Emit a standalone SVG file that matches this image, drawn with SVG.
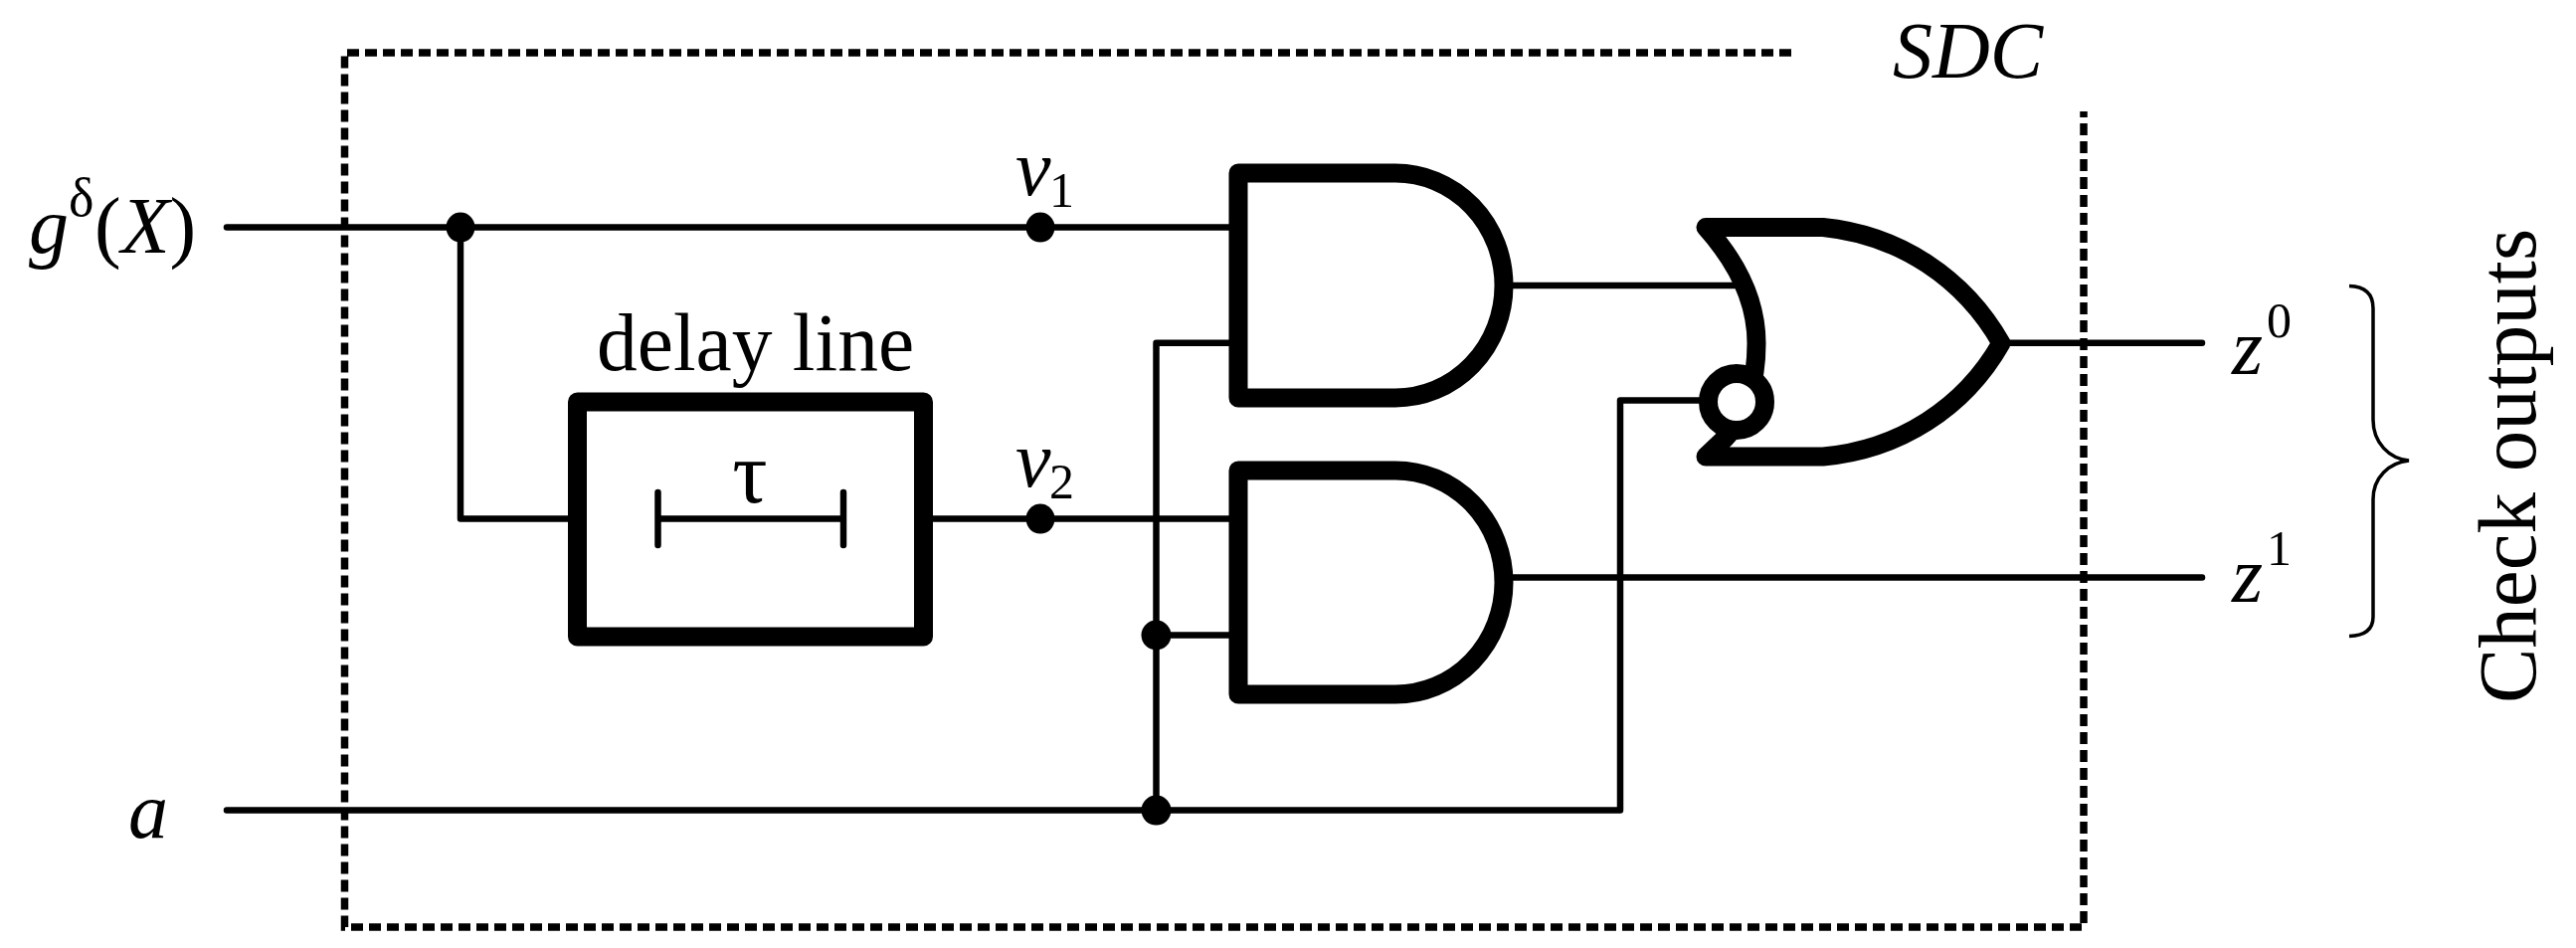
<svg xmlns="http://www.w3.org/2000/svg" width="2590" height="953" viewBox="0 0 2590 953">
<style>
text{font-family:"Liberation Serif","Times New Roman",serif;fill:#000;font-size:80px}
.i{font-style:italic}
.sup{font-size:50px}
.sub{font-size:50px}
.w{fill:none;stroke:#000;stroke-width:6.500;stroke-linecap:round;stroke-linejoin:round}
.g{fill:#fff;stroke:#000;stroke-width:19;stroke-linejoin:round;stroke-linecap:round}
.d{fill:none;stroke:#000;stroke-width:7.500;stroke-dasharray:12 6}
.dot{fill:#000}
</style>
<rect width="2590" height="953" fill="#fff"/>
<g id="sdc-boundary">
<path class="d" d="M1801 53H346.500V932H2095V112"/>
<text class="i" x="1903" y="78">SDC</text>
</g>
<g id="connectors">
<path class="w" d="M228 228.600H1240"/>
<path class="w" d="M463 228.600V521.600H575"/>
<path class="w" d="M935 521.600H1240"/>
<path class="w" d="M1162.500 814.600V344.700H1240"/>
<path class="w" d="M1162.500 638.500H1240"/>
<path class="w" d="M228 814.600H1629V402.400H1712"/>
<path class="w" d="M1518 287H1750"/>
<path class="w" d="M1518 580.500H2214"/>
<path class="w" d="M2015 344.700H2214"/>
<ellipse class="dot" cx="463" cy="228.600" rx="14.500" ry="15"/>
<ellipse class="dot" cx="1046" cy="228.600" rx="14.500" ry="15"/>
<ellipse class="dot" cx="1046" cy="521.600" rx="14.500" ry="15"/>
<ellipse class="dot" cx="1162.500" cy="638.500" rx="15" ry="15"/>
<ellipse class="dot" cx="1162.500" cy="814.600" rx="15" ry="15"/>
</g>
<g id="label-g">
<text class="i" x="29" y="254">g</text>
<text class="sup" x="69" y="217" style="font-size:54px">δ</text>
<text x="95" y="254">(<tspan class="i">X</tspan>)</text>
</g>
<g id="label-a"><text class="i" x="129" y="842">a</text></g>
<g id="label-v1"><text class="i" x="1021" y="196">v</text><text class="sub" x="1055" y="208">1</text></g>
<g id="label-v2"><text class="i" x="1021" y="489">v</text><text class="sub" x="1055" y="501">2</text></g>
<g id="delay-line">
<rect class="g" x="580.500" y="404" width="348" height="236"/>
<path class="w" d="M661.500 495V548M848 495V548M661.500 521.600H848"/>
<text x="600" y="372" style="font-size:81.500px">delay line</text>
<text x="754" y="505" text-anchor="middle" style="font-size:88px">τ</text>
</g>
<g id="and-1"><path class="g" d="M1245 174H1403A109 113 0 0 1 1403 400H1245Z"/></g>
<g id="and-2"><path class="g" d="M1245 473H1403A109 112.500 0 0 1 1403 698H1245Z"/></g>
<g id="or-gate">
<path class="g" d="M1715 228.500H1833C1910 236 1975 280 2012 345C1975 410 1910 452 1833 459H1733L1715 459L1735 440C1755 420 1766 385 1766 345C1766 300 1745 262 1715 228.500Z"/>
<circle cx="1746" cy="404" r="28.500" fill="#fff" stroke="#000" stroke-width="19"/>
</g>
<g id="label-z0"><text class="i" x="2244" y="376">z</text><text class="sup" x="2279" y="339">0</text></g>
<g id="label-z1"><text class="i" x="2244" y="605">z</text><text class="sup" x="2279" y="568">1</text></g>
<g id="check-outputs">
<path fill="none" stroke="#000" stroke-width="3.500" d="M2362 287.500C2378 288 2386 296 2386 310V422C2386 445 2402 461 2422 463C2402 465 2386 480 2386 502V620C2386 632 2378 639 2362 639.500"/>
<text transform="translate(2549 707) rotate(-90)" style="font-size:83px">Check outputs</text>
</g>
</svg>
